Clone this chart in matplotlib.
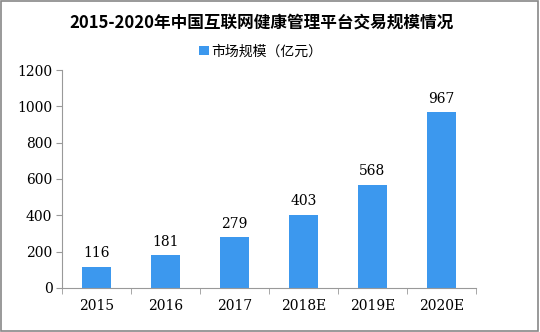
import matplotlib.pyplot as plt
from matplotlib.patches import Rectangle

plt.rcParams['font.family'] = ['Noto Sans CJK SC', 'DejaVu Sans']

years = ['2015', '2016', '2017', '2018E', '2019E', '2020E']
values = [116, 181, 279, 403, 568, 967]
series_name = '市场规模（亿元）'
title = '2015-2020年中国互联网健康管理平台交易规模情况'

fig = plt.figure(figsize=(5.4, 3.32), dpi=100)
ax = fig.add_axes([0.115, 0.133, 0.766, 0.656])

x = range(len(years))
ax.bar(x, values, width=0.42, color='#3C98EE', label=series_name, zorder=2)
for xi, v in zip(x, values):
    ax.text(xi, v + 35, str(v), ha='center', va='bottom', fontsize=10,
            family=['DejaVu Serif'])

ax.set_xlim(-0.5, len(years) - 0.5)
ax.set_ylim(0, 1200)
ax.set_yticks(range(0, 1201, 200))
ax.set_xticks(list(x))
ax.set_xticklabels(years)
ax.set_xticks([i - 0.5 for i in range(len(years) + 1)], minor=True)
ax.tick_params(axis='x', which='major', length=0, pad=8)
ax.tick_params(axis='x', which='minor', length=4, color='#999999')
ax.tick_params(axis='y', length=4, color='#999999', pad=3)
for lab in ax.get_xticklabels() + ax.get_yticklabels():
    lab.set_family(['DejaVu Serif'])
    lab.set_fontsize(10)

for side in ['top', 'right']:
    ax.spines[side].set_visible(False)
ax.spines['left'].set_color('#999999')
ax.spines['bottom'].set_color('#999999')

fig.text(0.485, 0.932, title, ha='center', va='center', fontsize=12, fontweight='bold')
ax.legend(loc='upper center', bbox_to_anchor=(0.48, 1.175), frameon=False,
          fontsize=10, handlelength=0.7, handleheight=0.7, handletextpad=0.2)

fig.patches.append(Rectangle((0.002, 0.003), 0.995, 0.994, transform=fig.transFigure,
                             fill=False, edgecolor='#888888', linewidth=1.2))

fig.savefig('out.png', dpi=100)
